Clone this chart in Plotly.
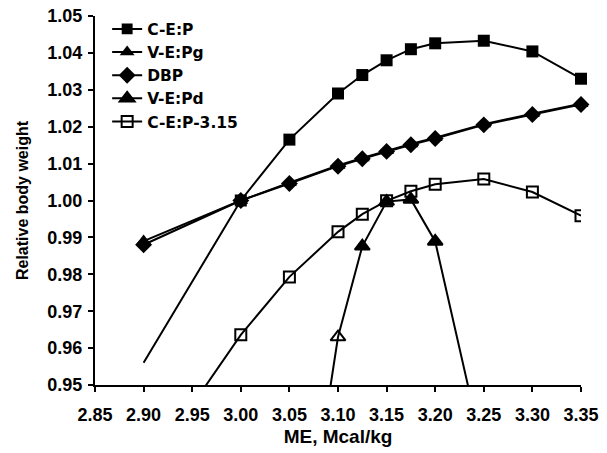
import plotly.graph_objects as go

# Data
x_cep = [2.90, 3.00, 3.05, 3.10, 3.125, 3.15, 3.175, 3.20, 3.25, 3.30, 3.35]
y_cep = [0.956, 1.000, 1.0165, 1.029, 1.034, 1.038, 1.041, 1.0426, 1.0433, 1.0404, 1.033]

x_vepg = [2.90, 3.00, 3.05, 3.10, 3.125, 3.15, 3.175, 3.20, 3.25, 3.30, 3.35]
y_vepg = [0.989, 1.000, 1.0048, 1.0095, 1.0115, 1.0135, 1.0153, 1.017, 1.0207, 1.0235, 1.0262]

x_dbp = [2.90, 3.00, 3.05, 3.10, 3.125, 3.15, 3.175, 3.20, 3.25, 3.30, 3.35]
y_dbp = [0.988, 1.000, 1.0046, 1.0093, 1.0113, 1.0133, 1.0151, 1.0168, 1.0205, 1.0233, 1.026]

x_vepd = [3.05, 3.10, 3.125, 3.15, 3.175, 3.20, 3.25]
y_vepd = [0.877, 0.963, 0.9876, 0.9997, 1.0003, 0.9889, 0.931]

x_cep315 = [2.90, 2.95, 3.00, 3.05, 3.10, 3.125, 3.15, 3.175, 3.20, 3.25, 3.30, 3.35]
y_cep315 = [0.922, 0.9445, 0.9636, 0.9793, 0.9915, 0.9963, 0.9999, 1.0025, 1.0044, 1.0058, 1.0023, 0.9959]

x_ticks = [2.85, 2.90, 2.95, 3.00, 3.05, 3.10, 3.15, 3.20, 3.25, 3.30, 3.35]
y_ticks = [0.95, 0.96, 0.97, 0.98, 0.99, 1.00, 1.01, 1.02, 1.03, 1.04, 1.05]

FONT = "Liberation Sans, Arial, sans-serif"
LEG_FONT = "DejaVu Sans, Liberation Sans, sans-serif"
LW = 2

fig = go.Figure()

fig.add_trace(go.Scatter(
    x=x_cep, y=y_cep, mode="lines+markers", name="C-E:P",
    line=dict(color="black", width=LW),
    marker=dict(symbol="square", color="black", opacity=1,
                size=[0] + [12] * (len(x_cep) - 1), line=dict(width=0)),
    cliponaxis=False,
))
fig.add_trace(go.Scatter(
    x=x_vepg, y=y_vepg, mode="lines+markers", name="V-E:Pg",
    line=dict(color="black", width=LW),
    marker=dict(symbol="triangle-up", color="black", size=13, opacity=1),
    cliponaxis=False,
))
fig.add_trace(go.Scatter(
    x=x_dbp, y=y_dbp, mode="lines+markers", name="DBP",
    line=dict(color="black", width=LW),
    marker=dict(symbol="diamond", color="black", size=13, opacity=1),
    cliponaxis=False,
))
fig.add_trace(go.Scatter(
    x=x_vepd, y=y_vepd, mode="lines+markers", name="V-E:Pd",
    line=dict(color="black", width=LW),
    marker=dict(symbol=["triangle-up", "triangle-up-open"] + ["triangle-up"] * (len(x_vepd) - 2),
                color="black", size=13, opacity=1, line=dict(width=2, color="black")),
    cliponaxis=True,
))
fig.add_trace(go.Scatter(
    x=x_cep315, y=y_cep315, mode="lines+markers", name="C-E:P-3.15",
    line=dict(color="black", width=LW),
    marker=dict(symbol="square-open", color="black", size=11, opacity=1,
                line=dict(width=2, color="black")),
    cliponaxis=True,
))

fig.update_layout(
    template="none",
    width=599, height=445,
    margin=dict(l=87, r=26, t=4, b=68, pad=0),
    paper_bgcolor="white", plot_bgcolor="white",
    font=dict(family=FONT, size=15, color="black", weight="bold"),
    showlegend=True,
    legend=dict(x=0.025, y=1.01, xanchor="left", yanchor="top",
                bgcolor="rgba(0,0,0,0)", borderwidth=0, tracegroupgap=0,
                font=dict(family=LEG_FONT, size=15.5, color="black", weight="bold"),
                itemwidth=30),
)
fig.update_xaxes(
    automargin=False, ticklabeloverflow="allow",
    range=[2.85, 3.35], tickvals=x_ticks, ticktext=[f"{v:.2f}" for v in x_ticks],
    showgrid=False, zeroline=False, showline=True, linecolor="black", linewidth=2,
    ticks="outside", ticklen=5, tickwidth=2, tickcolor="black", ticklabelstandoff=7,
    tickfont=dict(family=FONT, size=18, color="black", weight="bold"),
    title=dict(text="ME, Mcal/kg", font=dict(family=FONT, size=19, color="black", weight="bold"), standoff=6),
)
fig.update_yaxes(
    automargin=False, ticklabeloverflow="allow",
    range=[0.95, 1.05], tickvals=y_ticks, ticktext=[f"{v:.2f}" for v in y_ticks],
    showgrid=False, zeroline=False, showline=True, linecolor="black", linewidth=2,
    ticks="outside", ticklen=5, tickwidth=2, tickcolor="black", ticklabelstandoff=2,
    tickfont=dict(family=FONT, size=18, color="black", weight="bold"),
    title=dict(text="Relative body weight", font=dict(family=FONT, size=16, color="black", weight="bold"), standoff=15),
)

fig.write_html("out.html")
